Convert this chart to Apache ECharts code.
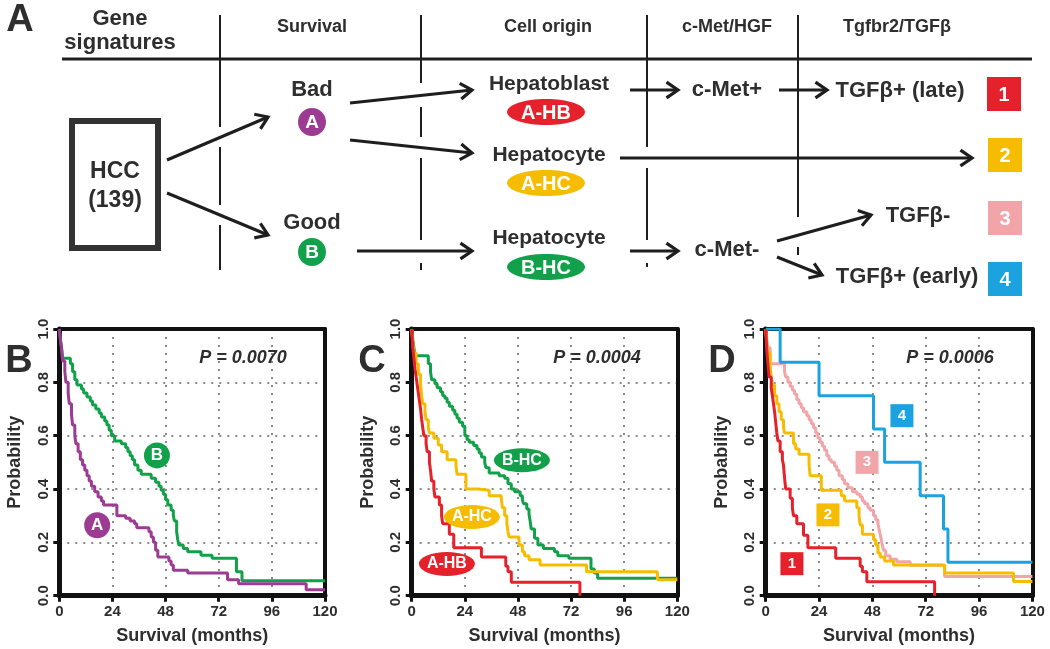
<!DOCTYPE html>
<html><head><meta charset="utf-8">
<script src="https://cdn.jsdelivr.net/npm/echarts@6/dist/echarts.min.js"></script>
<style>html,body{margin:0;padding:0;background:#fff}#c{width:1050px;height:649px}</style>
</head><body><div id="c"></div>
<script>
// ---------- DATA ----------
const monthTicks = [0, 24, 48, 72, 96, 120];
const probTicks = [0.0, 0.2, 0.4, 0.6, 0.8, 1.0];
const pValues = ['P = 0.0070', 'P = 0.0004', 'P = 0.0006'];

// Panel B: survival subtypes A (bad) and B (good): [month, probability]
const survB_A = [[0,1],[0.5,0.96],[1,0.93],[1.5,0.88],[2.5,0.84],[3,0.80],[4,0.76],[4.5,0.72],[5.5,0.68],[6,0.64],[7,0.60],[7.5,0.57],[8.5,0.54],[9.5,0.51],[10.5,0.49],[11.5,0.47],[12.5,0.45],[13.5,0.43],[14.5,0.41],[16,0.39],[17.5,0.37],[19,0.355],[20,0.34],[26,0.30],[30,0.29],[32,0.28],[34,0.27],[35,0.255],[40.5,0.24],[41.5,0.22],[42.5,0.20],[43.5,0.17],[44.5,0.145],[49.5,0.13],[50.5,0.115],[51.5,0.095],[58,0.085],[76,0.06],[81,0.045],[111.5,0.022],[120,0.022]];
const survB_B = [[0,1],[0.5,0.96],[1,0.93],[1.5,0.89],[5,0.87],[6,0.84],[7,0.81],[8,0.79],[10,0.775],[11,0.76],[12.5,0.745],[14,0.73],[15,0.715],[16.5,0.70],[18,0.685],[19,0.67],[20.5,0.655],[21.5,0.64],[22.5,0.62],[23.5,0.60],[25,0.58],[28,0.57],[30,0.555],[31,0.54],[32,0.525],[33,0.51],[34,0.49],[35.5,0.47],[37,0.455],[41.5,0.44],[43.5,0.425],[45,0.41],[46,0.395],[47,0.38],[48,0.36],[49,0.34],[50.5,0.32],[51.5,0.30],[52,0.28],[53,0.24],[53.5,0.21],[54,0.19],[56,0.177],[58,0.165],[64,0.152],[69,0.14],[80,0.09],[82.5,0.056],[120,0.056]];

// Panel C: cell origin subtypes
const survC_BHC = [[0,1],[0.5,0.96],[1,0.93],[1.5,0.9],[7.5,0.87],[8.5,0.84],[9,0.81],[10.5,0.795],[11.5,0.78],[13,0.765],[14,0.75],[15,0.74],[16,0.725],[17,0.71],[18.5,0.695],[19.5,0.68],[20.5,0.665],[21.5,0.65],[23,0.635],[24,0.60],[25,0.585],[26,0.575],[28,0.563],[29.5,0.55],[30.5,0.535],[31.5,0.52],[33,0.50],[33.5,0.48],[35,0.46],[39.5,0.45],[42,0.44],[43.5,0.42],[45,0.40],[46.5,0.39],[49,0.375],[50,0.36],[50.5,0.345],[52,0.325],[53,0.305],[53.5,0.28],[54,0.25],[55.5,0.215],[57,0.19],[59.5,0.177],[64.5,0.165],[66,0.15],[71,0.14],[81,0.1],[82.5,0.085],[84,0.065],[120,0.065]];
const survC_AHC = [[0,1],[0.5,0.95],[1,0.91],[2,0.87],[3,0.83],[4,0.79],[4.5,0.75],[5,0.72],[6,0.69],[6.5,0.66],[7.5,0.63],[8,0.61],[10,0.59],[12,0.565],[13.5,0.54],[16,0.51],[20,0.49],[20.5,0.455],[24.5,0.40],[30,0.395],[35,0.375],[40.5,0.36],[41,0.33],[42,0.30],[43,0.27],[43.5,0.24],[44,0.22],[48.5,0.19],[50,0.165],[51,0.15],[53,0.135],[58,0.115],[79,0.09],[111,0.06],[120,0.06]];
const survC_AHB = [[0,1],[0.5,0.93],[1,0.89],[1.5,0.85],[2,0.82],[2.5,0.79],[3,0.76],[3.5,0.73],[4,0.70],[4.5,0.66],[5,0.63],[5.5,0.60],[6.5,0.57],[7,0.54],[8,0.50],[8.5,0.47],[9,0.43],[10,0.40],[10.5,0.37],[12.5,0.34],[13.5,0.30],[14,0.27],[17,0.23],[19,0.18],[31.5,0.145],[42.5,0.11],[43.5,0.09],[45,0.05],[76,0]];

// Panel D: subclasses 1-4
const survD_1 = [[0,1],[0.5,0.92],[1,0.87],[1.5,0.82],[2.5,0.78],[3,0.75],[3.5,0.72],[4,0.69],[4.5,0.65],[5,0.61],[5.5,0.58],[6.5,0.54],[7.5,0.51],[8,0.49],[8.5,0.44],[9,0.40],[11,0.365],[12,0.33],[12.5,0.30],[14,0.27],[17,0.227],[19,0.18],[31.5,0.14],[42.5,0.11],[43.5,0.09],[45.5,0.052],[76,0]];
const survD_2 = [[0,1],[0.5,0.95],[1,0.91],[2,0.86],[2.5,0.82],[3,0.79],[4,0.75],[5,0.72],[6,0.69],[7,0.66],[8,0.63],[8.5,0.61],[12.5,0.57],[13.5,0.55],[15,0.53],[19.5,0.49],[20,0.45],[25,0.395],[34,0.375],[35.5,0.355],[41,0.33],[42,0.30],[42.5,0.265],[43.5,0.23],[48.5,0.21],[49.5,0.19],[50.5,0.16],[51.5,0.145],[53.5,0.13],[57.5,0.115],[80.5,0.085],[111.5,0.053],[120,0.053]];
const survD_3 = [[0,1],[0.5,0.96],[1,0.93],[2,0.87],[8.5,0.84],[9,0.82],[10,0.80],[11,0.785],[12,0.77],[13,0.755],[14,0.735],[15,0.72],[16,0.705],[17,0.69],[18.5,0.675],[19.5,0.66],[20.5,0.645],[21.5,0.63],[22.5,0.61],[23.5,0.59],[24.5,0.575],[25.5,0.56],[26.5,0.545],[27.5,0.525],[28.5,0.51],[29.5,0.50],[31,0.485],[32,0.47],[33,0.45],[34.5,0.435],[35.5,0.42],[37,0.405],[39,0.39],[41,0.38],[42.5,0.37],[43.5,0.355],[44.5,0.345],[46,0.33],[47,0.32],[48.5,0.30],[49.5,0.285],[50.5,0.27],[51,0.25],[51.5,0.23],[52,0.21],[52.5,0.19],[53,0.17],[54,0.15],[56,0.137],[59,0.127],[65,0.114],[80.5,0.072],[120,0.072]];
const survD_4 = [[0,1],[6.5,0.875],[24,0.75],[48.5,0.625],[53.5,0.5],[69.5,0.375],[80,0.25],[82,0.125],[120,0.125]];

// Curve labels: [text, month, probability]
const labelsB = [['B', 44.1, 0.526], ['A', 17.1, 0.264]];
const labelsC = [['B-HC', 49.8, 0.508], ['A-HC', 27.2, 0.295], ['A-HB', 15.9, 0.119]];
const labelsD = [['4', 61.3, 0.675], ['3', 45.6, 0.50], ['2', 28.0, 0.303], ['1', 11.8, 0.12]];

// ---------- STYLE ----------
const COL = {purple:'#9c3b92', green:'#12a04a', red:'#e5212b', yellow:'#f6bd00', pink:'#f2a5a8', blue:'#1ba2df', text:'#2e2e2e', line:'#1e1e1e'};
const FONT = '"Liberation Sans", Arial, Helvetica, sans-serif';

const gridLefts = [59.3, 411.7, 765.7];
const gridWidths = [265.7, 265.6, 266.7];

const grids = gridLefts.map((l, i) => ({left: l, top: 329, width: gridWidths[i], height: 266.7, show: false, containLabel: false}));

const xAxes = gridLefts.map((l, i) => ({
  type: 'value', gridIndex: i, min: monthTicks[0], max: monthTicks[monthTicks.length-1], interval: 24,
  name: 'Survival (months)', nameLocation: 'middle', nameGap: 31,
  nameTextStyle: {fontFamily: FONT, fontWeight: 'bold', fontSize: 18, color: COL.text},
  axisLine: {show: true, onZero: false, lineStyle: {color: '#111', width: 5}},
  axisTick: {show: true, length: 6, lineStyle: {color: '#111', width: 3}},
  axisLabel: {fontFamily: FONT, fontWeight: 'bold', fontSize: 15, color: COL.text, margin: 9},
  splitLine: {show: true, lineStyle: {color: '#8a8a8a', width: 2, type: [2, 6]}}
}));
const yAxes = gridLefts.map((l, i) => ({
  type: 'value', gridIndex: i, min: probTicks[0], max: probTicks[probTicks.length-1], interval: 0.2,
  name: 'Probability', nameLocation: 'middle', nameGap: 35, nameRotate: 90,
  nameTextStyle: {fontFamily: FONT, fontWeight: 'bold', fontSize: 18, color: COL.text},
  axisLine: {show: true, onZero: false, lineStyle: {color: '#111', width: 5}},
  axisTick: {show: true, length: 6, lineStyle: {color: '#111', width: 3}},
  axisLabel: {fontFamily: FONT, fontWeight: 'bold', fontSize: 15, color: COL.text, rotate: 90, margin: 8, formatter: v => v.toFixed(1)},
  splitLine: {show: true, lineStyle: {color: '#8a8a8a', width: 2, type: [2, 6]}}
}));
// frame: top and right axis lines
gridLefts.forEach((l, i) => {
  xAxes.push({type: 'value', gridIndex: i, position: 'top', min: 0, max: 120, interval: 24,
    axisLine: {show: true, onZero: false, lineStyle: {color: '#111', width: 4}}, axisTick: {show: false}, axisLabel: {show: false}, splitLine: {show: false}});
  yAxes.push({type: 'value', gridIndex: i, position: 'right', min: 0, max: 1, interval: 0.2,
    axisLine: {show: true, onZero: false, lineStyle: {color: '#111', width: 4}}, axisTick: {show: false}, axisLabel: {show: false}, splitLine: {show: false}});
});

function km(data, color, gi, marks) {
  return {type: 'line', step: 'end', xAxisIndex: gi, yAxisIndex: gi, data: data, symbol: 'none',
    lineStyle: {color: color, width: 3}, itemStyle: {color: color}, animation: false, silent: true,
    markPoint: marks ? {silent: true, animation: false, data: marks} : undefined};
}
function mk(lab, color, shape, size, fs) {
  return {coord: [lab[1], lab[2]], symbol: shape, symbolSize: size, itemStyle: {color: color},
    label: {show: true, formatter: lab[0], color: '#fff', fontFamily: FONT, fontWeight: 'bold', fontSize: fs}};
}

const series = [
  km(survB_B, COL.green, 0, [mk(labelsB[0], COL.green, 'circle', 26, 17)]),
  km(survB_A, COL.purple, 0, [mk(labelsB[1], COL.purple, 'circle', 26, 17)]),
  km(survC_BHC, COL.green, 1, [mk(labelsC[0], COL.green, 'circle', [56, 24], 16)]),
  km(survC_AHC, COL.yellow, 1, [mk(labelsC[1], COL.yellow, 'circle', [56, 24], 16)]),
  km(survC_AHB, COL.red, 1, [mk(labelsC[2], COL.red, 'circle', [56, 24], 16)]),
  km(survD_3, COL.pink, 2, [mk(labelsD[1], COL.pink, 'rect', 23, 15)]),
  km(survD_2, COL.yellow, 2, [mk(labelsD[2], COL.yellow, 'rect', 23, 15)]),
  km(survD_4, COL.blue, 2, [mk(labelsD[0], COL.blue, 'rect', 23, 15)]),
  km(survD_1, COL.red, 2, [mk(labelsD[3], COL.red, 'rect', 23, 15)])
];

// ---------- DIAGRAM (panel A) ----------
const G = [];
function txt(t, x, y, size, opts) {
  opts = opts || {};
  G.push({type: 'text', z: 100, style: {text: t, x: x, y: y, fill: opts.fill || COL.text,
    font: (opts.italic ? 'italic ' : '') + 'bold ' + size + 'px ' + FONT, textAlign: opts.align || 'center', textVerticalAlign: 'middle'}});
}
function seg(x1, y1, x2, y2, w) {
  G.push({type: 'line', z: 90, shape: {x1, y1, x2, y2}, style: {stroke: COL.line, lineWidth: w || 2}});
}
function arrow(x1, y1, x2, y2) {
  seg(x1, y1, x2, y2, 3);
  const ang = Math.atan2(y2 - y1, x2 - x1), L = 14, a = 0.6;
  G.push({type: 'polyline', z: 90, shape: {points: [[x2 - L*Math.cos(ang - a), y2 - L*Math.sin(ang - a)], [x2, y2], [x2 - L*Math.cos(ang + a), y2 - L*Math.sin(ang + a)]]},
    style: {stroke: COL.line, lineWidth: 3.2, fill: null}});
}
function badge(shape, cx, cy, w, h, color, t, fs) {
  if (shape === 'ellipse') G.push({type: 'ellipse', z: 95, shape: {cx, cy, rx: w/2, ry: h/2}, style: {fill: color}});
  else G.push({type: 'rect', z: 95, shape: {x: cx - w/2, y: cy - h/2, width: w, height: h}, style: {fill: color}});
  txt(t, cx, cy + 1, fs, {fill: '#fff'});
}

// panel letters
txt('A', 20, 21, 38); txt('B', 19, 362, 38); txt('C', 372, 362, 38); txt('D', 722, 362, 38);
// headers
txt('Gene', 120, 19, 22); txt('signatures', 120, 43, 22);
txt('Survival', 312, 27, 18); txt('Cell origin', 548, 27, 18); txt('c-Met/HGF', 727, 27, 18); txt('Tgfbr2/TGF\u03b2', 897, 27, 18);
seg(62, 59, 1032, 59, 3);
// vertical separators (broken)
[[220, [[15,127],[147,205],[225,270]]], [421, [[15,83],[107,137],[158,240],[263,270]]], [647, [[15,147],[168,240],[263,267]]], [798, [[15,217],[247,255]]]]
  .forEach(([x, parts]) => parts.forEach(([a, b]) => seg(x, a, x, b, 2)));
// HCC box
G.push({type: 'rect', z: 90, shape: {x: 72, y: 121, width: 86, height: 127}, style: {stroke: '#333', lineWidth: 6, fill: '#fff'}});
txt('HCC', 115, 172, 23); txt('(139)', 115, 201, 23);
// survival
txt('Bad', 312, 90, 22); badge('ellipse', 312, 122, 28, 28, COL.purple, 'A', 19);
txt('Good', 312, 223, 22); badge('ellipse', 312, 252, 28, 28, COL.green, 'B', 19);
// cell origin
txt('Hepatoblast', 549, 84, 21); badge('ellipse', 546, 112, 78, 26, COL.red, 'A-HB', 20);
txt('Hepatocyte', 549, 155, 21); badge('ellipse', 546, 183, 78, 26, COL.yellow, 'A-HC', 20);
txt('Hepatocyte', 549, 238, 21); badge('ellipse', 546, 267, 78, 26, COL.green, 'B-HC', 20);
// c-Met
txt('c-Met+', 727, 90, 22); txt('c-Met-', 727, 250, 22);
// TGFb
txt('TGF\u03b2+ (late)', 900, 91, 22); txt('TGF\u03b2-', 918, 216, 22); txt('TGF\u03b2+ (early)', 907, 277, 22);
badge('rect', 1004, 94, 34, 34, COL.red, '1', 20);
badge('rect', 1005, 155, 34, 34, COL.yellow, '2', 20);
badge('rect', 1005, 218, 34, 34, COL.pink, '3', 20);
badge('rect', 1005, 279, 34, 34, COL.blue, '4', 20);
// arrows
arrow(167, 160, 268, 117); arrow(167, 193, 268, 235);
arrow(350, 103, 472, 90); arrow(350, 140, 472, 153); arrow(357, 251, 472, 251);
arrow(630, 90, 678, 90); arrow(779, 90, 827, 90);
arrow(620, 158, 972, 158);
arrow(630, 251, 678, 251); arrow(777, 241, 871, 215); arrow(777, 257, 822, 275);
// p values
txt(pValues[0], 243, 358, 18, {italic: true}); txt(pValues[1], 597, 358, 18, {italic: true}); txt(pValues[2], 950, 358, 18, {italic: true});

const chart = echarts.init(document.getElementById('c'), null, {renderer: 'canvas'});
chart.setOption({animation: false, backgroundColor: '#fff', grid: grids, xAxis: xAxes, yAxis: yAxes, series: series, graphic: G});
</script></body></html>
